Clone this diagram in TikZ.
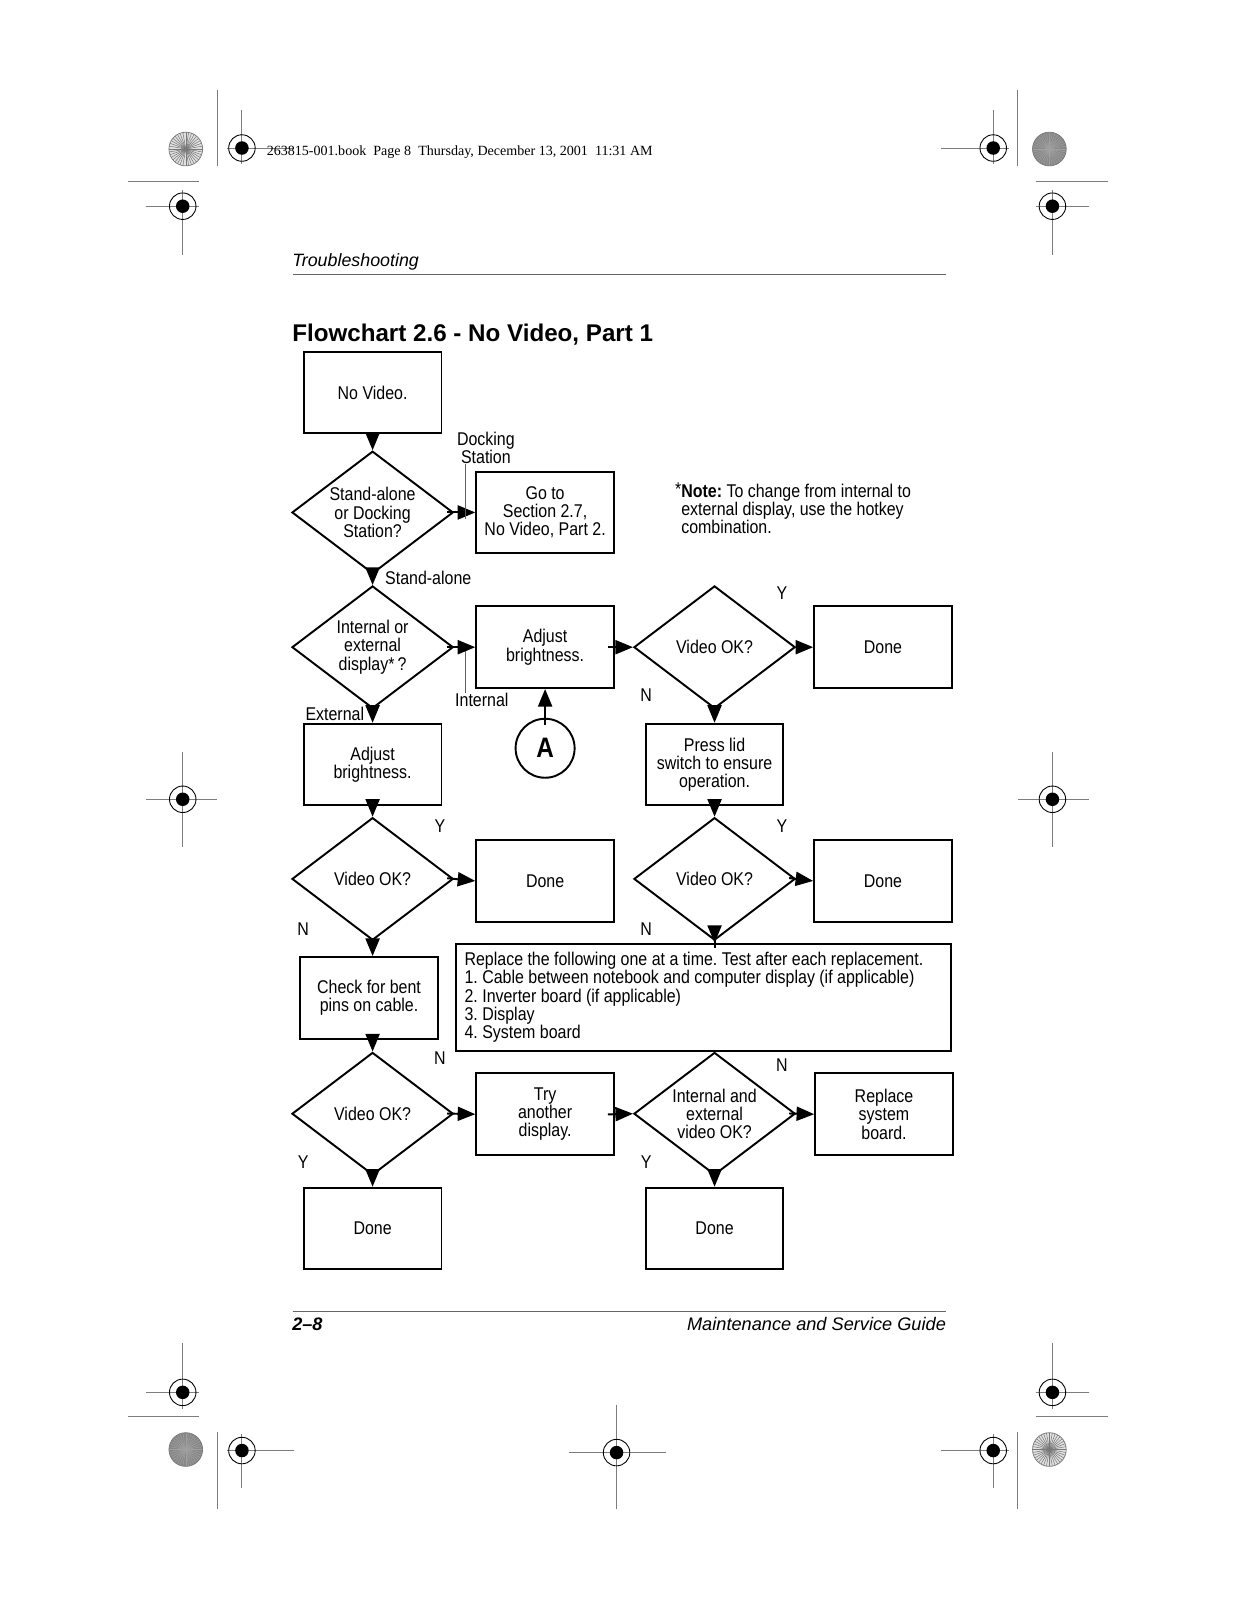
\documentclass[tikz,border=0pt]{standalone}
\usepackage{fontspec}
\setmainfont{Liberation Sans}
\newfontfamily\chartfont[FakeStretch = 0.865]{Liberation Sans}
\newfontfamily\stampfont{Liberation Serif}
\usetikzlibrary{shapes.geometric, arrows.meta}
\definecolor{CropGray}{RGB}{125,125,125}
\definecolor{LeaderGray}{RGB}{95,95,95}
\definecolor{BurstLight}{RGB}{225,225,225}
\definecolor{BurstRay}{RGB}{120,120,120}
\definecolor{BurstDark}{RGB}{135,135,135}
\definecolor{BurstSheen}{RGB}{160,160,160}
\colorlet{RuleGray}{black!60}
\frenchspacing
\tikzset{
    crop line/.style = {draw = CropGray, line width = 0.5pt},
    target/.pic = {
        \draw[line width = 0.5pt] (0,0) circle [radius = 0.265cm];
        \fill (0,0) circle [radius = 0.135cm];
    },
    chart box/.style = {
        draw, line width = 1.1pt,
        minimum width  = 2.755cm,
        minimum height = 1.633cm,
        align = center, inner sep = 1pt,
    },
    chart diamond/.style = {
        draw, shape = diamond, aspect = 1.3, line width = 1.1pt,
        minimum width  = 3.225cm,
        minimum height = 2.45cm,
        align = center, inner sep = 0pt,
    },
    flow/.style   = {line width = 1.1pt, shorten < = -4pt, -{Triangle[length = 10pt, width = 8pt]}},
    leader/.style = {draw = LeaderGray, line width = 0.5pt},
}

\begin{document}
\begin{tikzpicture}[x = 0.02041cm, y = -0.02041cm]
    \fill[white] (0cm,0cm) rectangle (24.74cm,-32cm);
    \useasboundingbox (0cm,0cm) rectangle (24.74cm,-32cm);

    % printer marks, mirrored into the four corners
    \foreach \sx/\sy/\dx/\dy/\burstfill/\raycolor in {
        1/1/0/0/BurstLight/BurstRay,
        -1/1/1210/0/BurstDark/BurstSheen,
        1/-1/0/1566/BurstDark/BurstSheen,
        -1/-1/1210/1566/BurstLight/BurstRay} {
        \begin{scope}[shift = {(\dx,\dy)}, xscale = \sx, yscale = \sy]
            \draw[crop line] (213,88)  -- (213,163);
            \draw[crop line] (125,178) -- (195,178);
            \draw[crop line] (222,145) -- (288,145);
            \draw[crop line] (237,108) -- (237,161);
            \draw[crop line] (143,202) -- (195,202);
            \draw[crop line] (179,186) -- (179,250);
            \pic at (237,145) {target};
            \pic at (179,202) {target};
            \fill[\burstfill] (182,146) circle [radius = 0.337cm];
            \foreach \a in {0,10,...,350}
                \draw[\raycolor, line width = 0.3pt] (182,146) -- ++(\a:0.337cm);
            \draw[BurstRay, line width = 0.4pt] (182,146) circle [radius = 0.337cm];
        \end{scope}
    }
    \draw[crop line] (143,783)  -- (213,783);
    \draw[crop line] (179,737)  -- (179,830);
    \pic at (179,783) {target};
    \draw[crop line] (997,783)  -- (1067,783);
    \draw[crop line] (1031,737) -- (1031,830);
    \pic at (1031,783) {target};
    \draw[crop line] (557,1423) -- (652,1423);
    \draw[crop line] (604,1376) -- (604,1478);
    \pic at (604,1423) {target};

    % page head and foot
    \node[anchor = west, inner sep = 0pt, font = \stampfont\fontsize{8pt}{9pt}\selectfont] (stamp) at (261,149)
        {263815-001.book\ \ Page 8\ \ Thursday, December 13, 2001\ \ 11:31 AM};
    \node[anchor = base west, inner sep = 0pt, font = \itshape\fontsize{10.15pt}{12pt}\selectfont] (chapter) at (286,261) {Troubleshooting};
    \draw[RuleGray, line width = 0.7pt] (287,269) -- (927,269);
    \node[anchor = base west, inner sep = 0pt, font = \bfseries\fontsize{13.75pt}{15pt}\selectfont] (title) at (286,335)
        {Flowchart 2.6 - No Video, Part 1};
    \draw[RuleGray, line width = 0.7pt] (287,1285) -- (927,1285);
    \node[anchor = base west, inner sep = 0pt, font = \bfseries\itshape\fontsize{10.3pt}{12pt}\selectfont] (pageno) at (286,1303) {2–8};
    \node[anchor = base east, inner sep = 0pt, font = \itshape\fontsize{10.35pt}{12pt}\selectfont] (guide) at (927,1303)
        {Maintenance and Service Guide};

    \begin{scope}[
        every node/.append style = {
            font = \chartfont\fontsize{10.5pt}{10.4pt}\selectfont,
        }
    ]
        % column 1
        \node[chart box]     (novideo)  at (365,384.5)  {No Video.};
        \node[chart diamond] (dockq)    at (365,502)    {Stand-alone\\or Docking\\Station?};
        \node[chart diamond] (dispq)    at (365,634)    {Internal or\\external\\display*\,?};
        \node[chart box]     (adjext)   at (365,749)    {Adjust\\brightness.};
        \node[chart diamond] (vokext)   at (365,861)    {Video OK?};
        \node[chart box]     (bentpins) at (361.5,977.5) {Check for bent\\pins on cable.};
        \node[chart diamond] (vokpins)  at (365,1091)   {Video OK?};
        \node[chart box]     (donepins) at (365,1203.5) {Done};

        % column 2
        \node[chart box] (gosec)    at (534,502)    {Go to\\Section 2.7,\\No Video, Part 2.};
        \node[chart box] (adjint)   at (534,634)    {Adjust\\brightness.};
        \node[circle, draw, line width = 1.1pt, minimum size = 1.18cm, inner sep = 0pt,
              font = \chartfont\bfseries\fontsize{16pt}{16pt}\selectfont] (circA) at (534,733) {A};
        \node[chart box] (doneext)  at (534,863)    {Done};
        \node[chart box] (tryother) at (534,1091.5) {Try\\another\\display.};

        % column 3
        \node[chart diamond] (vokint)   at (700,634)    {Video OK?};
        \node[chart box]     (lidsw)    at (700,749)    {Press lid\\switch to ensure\\operation.};
        \node[chart diamond] (voklid)   at (700,861)    {Video OK?};
        \node[chart box, text width = 9.57cm, minimum height = 2.04cm, inner sep = 0.165cm, align = flush left]
            (replist) at (689.5,977) {Replace the following one at a time. Test after each replacement.\\
            1. Cable between notebook and computer display (if applicable)\\
            2. Inverter board (if applicable)\\
            3. Display\\
            4. System board};
        \node[chart diamond] (bothq)    at (700,1091)   {Internal and\\external\\video OK?};
        \node[chart box]     (doneboth) at (700,1203.5) {Done};

        % column 4
        \node[chart box] (doneint) at (865,634)    {Done};
        \node[chart box] (donelid) at (865,863)    {Done};
        \node[chart box] (replsys) at (866,1091.5) {Replace\\system\\board.};

        % connectors
        \draw[flow] (novideo.south) -- (dockq.north);
        \draw[flow] (dockq.east)    -- (gosec.west);
        \draw[flow] (dockq.south)   -- (dispq.north);
        \draw[flow] (dispq.east)    -- (adjint.west);
        \draw[flow] (dispq.south)   -- (adjext.north);
        \draw[flow] (circA.north)   -- (adjint.south);
        \draw[flow] (adjint.east)   -- (vokint.west);
        \draw[flow] (vokint.east)   -- (doneint.west);
        \draw[flow] (vokint.south)  -- (lidsw.north);
        \draw[flow] (adjext.south)  -- (vokext.north);
        \draw[flow] (vokext.east)   -- (doneext.west);
        \draw[flow] (vokext.south)  -- (vokext.south |- bentpins.north);
        \draw[flow] (bentpins.south -| vokpins.north) -- (vokpins.north);
        \draw[flow] (vokpins.east)  -- (tryother.west);
        \draw[flow] (vokpins.south) -- (donepins.north);
        \draw[flow] (lidsw.south)   -- (voklid.north);
        \draw[flow] (voklid.east)   -- (donelid.west);
        \draw[flow] (voklid.south)  -- (voklid.south |- replist.north);
        \draw[flow] (tryother.east) -- (bothq.west);
        \draw[flow] (bothq.east)    -- (replsys.west);
        \draw[flow] (bothq.south)   -- (doneboth.north);

        % branch labels
        \node[align = center, inner sep = 0pt] (docklbl) at (476,439) {Docking\\Station};
        \coordinate (dockfoot) at (456,508);
        \draw[leader] (docklbl.south -| dockfoot) -- (dockfoot);
        \node[anchor = west, inner sep = 0pt] (standlbl) at (377,566) {Stand-alone};
        \node[inner sep = 0pt] (intlbl) at (472,686) {Internal};
        \coordinate (inttop) at (456,638);
        \draw[leader] (inttop) -- (inttop |- intlbl.north);
        \node[inner sep = 0pt] (extlbl) at (328,699) {External};

        \node (yint)  at ([shift = {(66,-53)}]vokint.center)  {Y};
        \node (nint)  at ([shift = {(-67,47)}]vokint.center)  {N};
        \node (yext)  at ([shift = {(66,-52)}]vokext.center)  {Y};
        \node (next)  at ([shift = {(-68,49)}]vokext.center)  {N};
        \node (ylid)  at ([shift = {(66,-52)}]voklid.center)  {Y};
        \node (nlid)  at ([shift = {(-67,49)}]voklid.center)  {N};
        \node (npins) at ([shift = {(66,-54)}]vokpins.center) {N};
        \node (ypins) at ([shift = {(-68,47)}]vokpins.center) {Y};
        \node (nboth) at ([shift = {(66,-48)}]bothq.center)   {N};
        \node (yboth) at ([shift = {(-67,47)}]bothq.center)   {Y};

        % side note
        \node[anchor = west, align = left, inner sep = 0pt] (note) at (661,498)
            {\raisebox{1pt}{*}\textbf{Note:} To change from internal to\\
            \phantom{*}external display, use the hotkey\\
            \phantom{*}combination.};
    \end{scope}
\end{tikzpicture}
\end{document}
